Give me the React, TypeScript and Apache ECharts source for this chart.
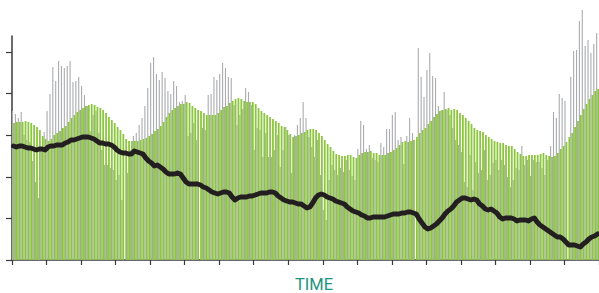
import React, { useEffect, useRef } from "react";
import * as echarts from "echarts";

// Spiky monthly observations (grey bars), heights in chart units
const grayValues = [
  149, 146, 142, 148, 125, 120, 118, 99, 78, 62,
  110, 128, 149, 166, 193, 179, 199, 194, 192, 194,
  199, 178, 179, 183, 174, 165, 154, 129, 145, 149,
  127, 110, 95, 95, 92, 90, 80, 85, 60, 0,
  87, 110, 124, 127, 135, 142, 154, 172, 197, 203,
  186, 180, 188, 182, 169, 166, 179, 174, 158, 159,
  165, 124, 127, 137, 120, 0, 132, 130, 165, 166,
  183, 180, 186, 197, 192, 183, 182, 155, 135, 145,
  151, 172, 168, 155, 110, 132, 130, 103, 127, 103,
  103, 110, 125, 93, 110, 133, 125, 87, 125, 135,
  142, 158, 142, 123, 113, 103, 120, 85, 50, 40,
  80, 95, 90, 85, 92, 88, 100, 90, 84, 80,
  111, 139, 135, 111, 115, 102, 100, 98, 117, 113,
  131, 131, 145, 148, 120, 123, 96, 124, 142, 127,
  0, 212, 183, 163, 190, 207, 184, 182, 154, 150,
  168, 150, 145, 132, 120, 115, 108, 78, 73, 105,
  70, 98, 87, 90, 110, 80, 85, 97, 100, 90,
  100, 95, 83, 73, 80, 92, 90, 114, 95, 100,
  84, 100, 98, 98, 92, 85, 100, 114, 148, 142,
  166, 162, 159, 0, 183, 209, 210, 239, 250, 214,
  220, 207, 216, 227,
];

// Smoothed level (green bars)
const greenValues = [
  137, 138, 138, 138, 139, 138, 137, 135, 133, 130,
  124, 121, 119, 121, 125, 127, 129, 132, 134, 138,
  142, 145, 148, 150, 152, 154, 155, 156, 155, 153,
  152, 150, 147, 143, 140, 137, 133, 130, 126, 121,
  119, 119, 119, 119, 120, 121, 122, 124, 126, 129,
  131, 134, 138, 143, 147, 150, 152, 154, 156, 156,
  158, 157, 154, 152, 150, 149, 147, 145, 145, 145,
  145, 147, 150, 153, 154, 157, 159, 161, 162, 161,
  159, 158, 158, 158, 156, 152, 149, 147, 145, 143,
  141, 139, 137, 134, 133, 130, 126, 123, 124, 125,
  127, 128, 130, 131, 131, 130, 127, 124, 120, 116,
  113, 109, 106, 105, 104, 104, 105, 105, 103, 102,
  105, 107, 108, 108, 109, 107, 107, 105, 105, 105,
  107, 108, 110, 112, 115, 118, 119, 118, 119, 120,
  123, 127, 130, 132, 136, 139, 143, 146, 149, 150,
  151, 152, 150, 151, 150, 147, 145, 142, 139, 136,
  132, 130, 129, 128, 125, 123, 121, 119, 118, 117,
  117, 115, 114, 114, 111, 108, 106, 104, 104, 105,
  105, 105, 105, 106, 107, 105, 104, 103, 104, 107,
  111, 114, 118, 123, 127, 133, 139, 145, 151, 156,
  161, 165, 169, 171,
];

// Long-term trend (black line)
const trendValues = [
  114, 113, 114, 114, 113, 112, 112, 111, 110, 111,
  111, 110, 113, 114, 114, 115, 115, 115, 117, 118,
  120, 120, 121, 122, 123, 123, 123, 122, 121, 119,
  117, 117, 116, 116, 115, 113, 110, 108, 107, 107,
  106, 106, 109, 108, 107, 106, 102, 99, 97, 94,
  95, 93, 91, 88, 86, 86, 86, 87, 86, 82,
  78, 76, 76, 76, 76, 75, 73, 72, 70, 68,
  67, 66, 67, 68, 68, 67, 63, 60, 62, 63,
  63, 63, 64, 64, 65, 66, 67, 67, 67, 68,
  68, 67, 64, 62, 60, 59, 58, 58, 57, 56,
  56, 54, 52, 53, 57, 62, 65, 66, 65, 63,
  62, 61, 59, 58, 57, 56, 53, 51, 49, 48,
  47, 45, 44, 42, 42, 43, 43, 43, 43, 43,
  44, 45, 46, 46, 46, 47, 47, 48, 48, 47,
  46, 41, 37, 33, 31, 32, 34, 36, 39, 42,
  46, 49, 51, 54, 58, 60, 62, 62, 61, 60,
  61, 60, 56, 54, 51, 50, 51, 49, 47, 43,
  41, 42, 42, 42, 41, 39, 40, 40, 40, 39,
  41, 42, 38, 35, 33, 31, 29, 27, 25, 23,
  23, 21, 18, 15, 15, 15, 14, 13, 16, 18,
  21, 23, 24, 26,
];

const categories = grayValues.map((_, i) => `P${i + 1}`);
const yTickValues = [0, 41.6, 83.2, 124.8, 166.4, 208];
const axisTitle = "TIME";

export default function App() {
  const ref = useRef<HTMLDivElement>(null);

  useEffect(() => {
    if (!ref.current) return;
    const chart = echarts.init(ref.current, null, { renderer: "svg" });
    const axisColor = "#3a3a3a";
    chart.setOption({
      animation: false,
      grid: { left: 12, top: 36, width: 588, height: 224 },
      xAxis: {
        type: "category",
        data: categories,
        boundaryGap: true,
        axisLine: { show: true, lineStyle: { color: axisColor, width: 1.5 } },
        axisTick: { show: true, interval: 11, length: 5, lineStyle: { color: axisColor, width: 1.2 } },
        axisLabel: { show: false },
        splitLine: { show: false },
      },
      yAxis: {
        type: "value",
        min: 0,
        max: 224,
        axisLine: { show: true, lineStyle: { color: axisColor, width: 1.5 } },
        axisTick: {
          show: true,
          length: 6,
          customValues: yTickValues,
          lineStyle: { color: axisColor, width: 1.2 },
        },
        axisLabel: { show: false },
        splitLine: { show: false },
      },
      graphic: [
        {
          type: "text",
          x: 314,
          y: 284.5,
          style: {
            text: axisTitle,
            fill: "#1b9480",
            fontSize: 16.5,
            fontFamily: "Roboto",
            align: "center",
            verticalAlign: "middle",
          },
        },
      ],
      series: [
        {
          type: "bar",
          data: grayValues,
          barWidth: 1.1,
          barGap: "0%",
          clip: false,
          itemStyle: { color: "#a9abae" },
          z: 2,
        },
        {
          type: "bar",
          data: greenValues,
          barWidth: 1.8,
          barGap: "0%",
          itemStyle: { color: "#8cc63f" },
          z: 2,
        },
        {
          type: "line",
          data: trendValues,
          showSymbol: false,
          symbol: "none",
          lineStyle: { color: "#231f20", width: 5, join: "round", cap: "round" },
          z: 5,
        },
      ],
    });
    return () => chart.dispose();
  }, []);

  return (
    <div
      ref={ref}
      style={{ position: "absolute", left: 0, top: 0, width: 599, height: 293 }}
    />
  );
}
